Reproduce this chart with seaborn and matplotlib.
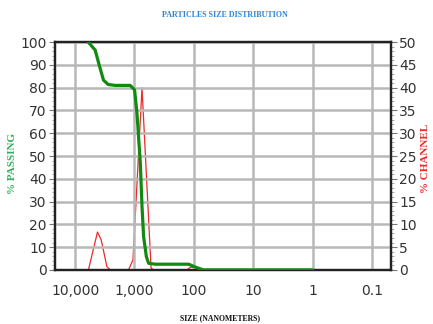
import matplotlib
matplotlib.use("Agg")
import matplotlib.pyplot as plt
import matplotlib.ticker as mticker
import seaborn as sns
import pandas as pd

# Cumulative % passing (left axis)
pass_size = [6000, 4590, 3935, 3325, 2775, 2110, 1178, 996, 908, 798, 747, 702, 631, 578, 445, 122, 94, 69, 1.0]
pass_pct = [100, 96.5, 90, 83.3, 81.4, 81, 81, 79, 68.7, 47, 27.8, 14.6, 5.8, 2.9, 2.5, 2.5, 1.2, 0, 0]

# % in channel (right axis)
chan_size = [5960, 4200, 3640, 2910, 2565, 1260, 1060, 747, 526, 480, 130, 114, 88, 75, 1.0]
chan_pct = [0, 8.3, 6.6, 0.7, 0, 0, 2.2, 40, 0.4, 0, 0, 0.6, 0.5, 0, 0]

x_ticks = [10000, 1000, 100, 10, 1, 0.1]
x_labels = ["10,000", "1,000", "100", "10", "1", "0.1"]

df_pass = pd.DataFrame({"size": pass_size, "pct": pass_pct})
df_chan = pd.DataFrame({"size": chan_size, "pct": chan_pct})

sns.set_style("white")
fig = plt.figure(figsize=(4.33, 3.24), dpi=100)
ax = fig.add_axes([0.127, 0.167, 0.776, 0.703])
ax2 = ax.twinx()

sns.lineplot(data=df_pass, x="size", y="pct", ax=ax, color="#128a12", lw=2.3, sort=False, zorder=3)
sns.lineplot(data=df_chan, x="size", y="pct", ax=ax2, color="#ee2a2a", lw=0.9, sort=False, zorder=2)
ax.set_zorder(ax2.get_zorder() + 1)
ax.patch.set_visible(False)

ax.set_xscale("log")
ax.set_xlim(21800, 0.048)
ax.set_ylim(0, 100)
ax2.set_ylim(0, 50)
ax.set_xticks(x_ticks)
ax.set_xticklabels(x_labels)
ax.xaxis.set_minor_locator(mticker.LogLocator(base=10, subs=range(2, 10)))
ax.xaxis.set_minor_formatter(mticker.NullFormatter())
ax.set_yticks(range(0, 101, 10))
ax.yaxis.set_minor_locator(mticker.MultipleLocator(2))
ax2.set_yticks(range(0, 51, 5))
ax2.yaxis.set_minor_locator(mticker.MultipleLocator(1))

# fine-textured grey grid, reads as nearly solid
ax.grid(True, which="major", color="#b8b8b8", lw=1.8, ls="-")
for a in (ax, ax2):
    for s in a.spines.values():
        s.set_color("#222222")
        s.set_linewidth(1.6)
    a.tick_params(which="major", length=4, width=0.8, color="#777777", labelsize=10, labelcolor="#333333", pad=2)
    a.tick_params(which="minor", length=2, width=0.6, color="#999999")
ax.tick_params(axis="x", pad=6)

ax.set_xlabel("")
ax.set_ylabel("")
ax2.set_ylabel("")
fig.text(0.52, 0.955, "PARTICLES SIZE DISTRIBUTION", ha="center", va="center",
         fontsize=5.8, fontweight="bold", family="Liberation Serif", color="#2b86d6")
fig.text(0.03, 0.497, "% PASSING", ha="center", va="center", rotation=90,
         fontsize=8, fontweight="bold", family="Liberation Serif", color="#2eb35a")
fig.text(0.982, 0.512, "% CHANNEL", ha="center", va="center", rotation=90,
         fontsize=8, fontweight="bold", family="Liberation Serif", color="#ee2a2a")
fig.text(0.508, 0.018, "SIZE (NANOMETERS)", ha="center", va="center",
         fontsize=5.6, fontweight="bold", family="Liberation Serif", color="#111111")

fig.savefig("out.png", dpi=100)
